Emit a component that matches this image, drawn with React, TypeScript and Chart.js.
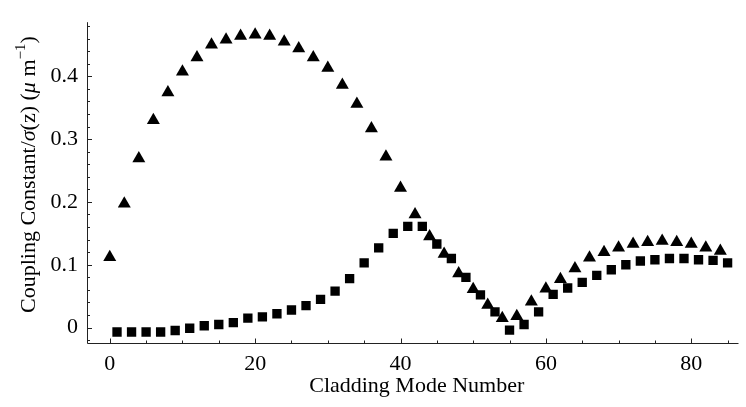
import React, { useEffect, useRef } from 'react';
import { Chart, registerables } from 'chart.js';

Chart.register(...registerables);

// Triangles: even cladding mode numbers
const triX = [0, 2, 4, 6, 8, 10, 12, 14, 16, 18, 20, 22, 24, 26, 28, 30, 32, 34, 36, 38, 40, 42, 44, 46, 48, 50, 52, 54, 56, 58, 60, 62, 64, 66, 68, 70, 72, 74, 76, 78, 80, 82, 84];
const triY = [0.112, 0.197, 0.269, 0.330, 0.374, 0.407, 0.430, 0.450, 0.458, 0.464, 0.466, 0.464, 0.455, 0.444, 0.430, 0.413, 0.386, 0.356, 0.317, 0.272, 0.222, 0.180, 0.145, 0.117, 0.086, 0.061, 0.036, 0.015, 0.018, 0.041, 0.062, 0.077, 0.094, 0.111, 0.120, 0.127, 0.133, 0.136, 0.138, 0.136, 0.133, 0.127, 0.122];

// Squares: odd cladding mode numbers
const sqX = [1, 3, 5, 7, 9, 11, 13, 15, 17, 19, 21, 23, 25, 27, 29, 31, 33, 35, 37, 39, 41, 43, 45, 47, 49, 51, 53, 55, 57, 59, 61, 63, 65, 67, 69, 71, 73, 75, 77, 79, 81, 83, 85];
const sqY = [-0.007, -0.007, -0.007, -0.007, -0.0046, -0.001, 0.003, 0.005, 0.008, 0.015, 0.017, 0.022, 0.028, 0.035, 0.045, 0.058, 0.078, 0.103, 0.127, 0.150, 0.161, 0.161, 0.133, 0.110, 0.080, 0.052, 0.025, -0.004, 0.005, 0.025, 0.053, 0.063, 0.072, 0.083, 0.092, 0.100, 0.106, 0.108, 0.110, 0.110, 0.108, 0.107, 0.103];

const xTicks = [0, 20, 40, 60, 80];
const xTickLabels = ['0', '20', '40', '60', '80'];
const xMinorTicks = [5, 10, 15, 25, 30, 35, 45, 50, 55, 65, 70, 75, 85];
const yTicks = [0, 0.1, 0.2, 0.3, 0.4];
const yTickLabels = ['0', '0.1', '0.2', '0.3', '0.4'];
const yMinorTicks = [-0.02, 0.02, 0.04, 0.06, 0.08, 0.12, 0.14, 0.16, 0.18, 0.22, 0.24, 0.26, 0.28, 0.32, 0.34, 0.36, 0.38, 0.42, 0.44, 0.46, 0.48];

const xTitle = 'Cladding Mode Number';
const yTitleParts = [
  { t: 'Coupling Constant/', style: 'normal', sup: false },
  { t: 'σ', style: 'italic', sup: false },
  { t: '(z) (', style: 'normal', sup: false },
  { t: 'μ', style: 'italic', sup: false },
  { t: ' m', style: 'normal', sup: false },
  { t: '−1', style: 'normal', sup: true },
  { t: ')', style: 'normal', sup: false },
];

const FONT = '"Liberation Serif", "Times New Roman", serif';

const decorPlugin = {
  id: 'decor',
  afterDraw(chart: any) {
    const { ctx, chartArea: a, scales } = chart;
    const x = scales.x;
    const y = scales.y;
    ctx.save();
    ctx.strokeStyle = '#222';
    ctx.lineWidth = 1;
    ctx.beginPath();
    ctx.moveTo(a.left + 0.5, a.top);
    ctx.lineTo(a.left + 0.5, a.bottom + 0.5);
    ctx.lineTo(a.right, a.bottom + 0.5);
    ctx.stroke();
    ctx.beginPath();
    xTicks.forEach((v) => {
      const px = Math.round(x.getPixelForValue(v)) + 0.5;
      ctx.moveTo(px, a.bottom);
      ctx.lineTo(px, a.bottom - 4.5);
    });
    xMinorTicks.forEach((v) => {
      const px = Math.round(x.getPixelForValue(v)) + 0.5;
      ctx.moveTo(px, a.bottom);
      ctx.lineTo(px, a.bottom - 2.5);
    });
    yTicks.forEach((v) => {
      const py = Math.round(y.getPixelForValue(v)) + 0.5;
      ctx.moveTo(a.left, py);
      ctx.lineTo(a.left + 5, py);
    });
    yMinorTicks.forEach((v) => {
      const py = Math.round(y.getPixelForValue(v)) + 0.5;
      ctx.moveTo(a.left, py);
      ctx.lineTo(a.left + 3, py);
    });
    ctx.stroke();

    // x title
    ctx.fillStyle = '#000';
    ctx.font = `22px ${FONT}`;
    ctx.textAlign = 'center';
    ctx.textBaseline = 'middle';
    ctx.fillText(xTitle, (a.left + a.right) / 2 + 4, a.bottom + 43);

    // y title (rich)
    ctx.translate(29, (a.top + a.bottom) / 2 - 8);
    ctx.rotate(-Math.PI / 2);
    ctx.textAlign = 'left';
    const fontFor = (p: any) => `${p.style} ${p.sup ? 15 : 22}px ${FONT}`;
    let total = 0;
    yTitleParts.forEach((p) => {
      ctx.font = fontFor(p);
      total += ctx.measureText(p.t).width;
    });
    let cx = -total / 2;
    yTitleParts.forEach((p) => {
      ctx.font = fontFor(p);
      ctx.fillText(p.t, cx, p.sup ? -8 : 0);
      cx += ctx.measureText(p.t).width;
    });
    ctx.restore();
  },
};

export default function App() {
  const ref = useRef<HTMLCanvasElement | null>(null);
  useEffect(() => {
    if (!ref.current) return;
    const chart = new Chart(ref.current, {
      type: 'scatter',
      data: {
        datasets: [
          {
            label: 'triangles',
            data: triX.map((v, i) => ({ x: v, y: triY[i] })),
            pointStyle: 'triangle',
            pointRadius: 7.5,
            backgroundColor: '#000',
            borderColor: '#000',
            borderWidth: 0,
          },
          {
            label: 'squares',
            data: sqX.map((v, i) => ({ x: v, y: sqY[i] })),
            pointStyle: 'rect',
            pointRadius: 6.6,
            backgroundColor: '#000',
            borderColor: '#000',
            borderWidth: 0,
          },
        ],
      },
      options: {
        animation: false,
        responsive: false,
        maintainAspectRatio: false,
        layout: { padding: { top: 10, right: 0, left: 0, bottom: 0 } },
        plugins: { legend: { display: false }, tooltip: { enabled: false } },
        scales: {
          x: {
            type: 'linear',
            min: -3.13,
            max: 86.5,
            grid: { display: false, drawTicks: false },
            border: { display: false },
            afterBuildTicks: (s: any) => {
              s.ticks = xTicks.map((v) => ({ value: v }));
            },
            afterFit: (s: any) => {
              s.height = 64;
            },
            ticks: {
              font: { family: FONT, size: 22 },
              color: '#000',
              padding: 8,
              maxRotation: 0,
              autoSkip: false,
              callback: (v: any) => xTickLabels[xTicks.indexOf(Number(v))] ?? '',
            },
          },
          y: {
            type: 'linear',
            min: -0.0245,
            max: 0.486,
            grid: { display: false, drawTicks: false },
            border: { display: false },
            afterBuildTicks: (s: any) => {
              s.ticks = yTicks.map((v) => ({ value: v }));
            },
            afterFit: (s: any) => {
              s.width = 87;
            },
            ticks: {
              font: { family: FONT, size: 22 },
              color: '#000',
              padding: 9,
              autoSkip: false,
              callback: (v: any) => {
                const i = yTicks.findIndex((t) => Math.abs(t - Number(v)) < 1e-9);
                return i >= 0 ? yTickLabels[i] : '';
              },
            },
          },
        },
      },
      plugins: [decorPlugin],
    });
    return () => chart.destroy();
  }, []);
  return (
    <div style={{ position: 'fixed', left: 0, top: 0, width: 746, height: 407, background: '#fff' }}>
      <canvas ref={ref} width={746} height={407} style={{ display: 'block' }} />
    </div>
  );
}
